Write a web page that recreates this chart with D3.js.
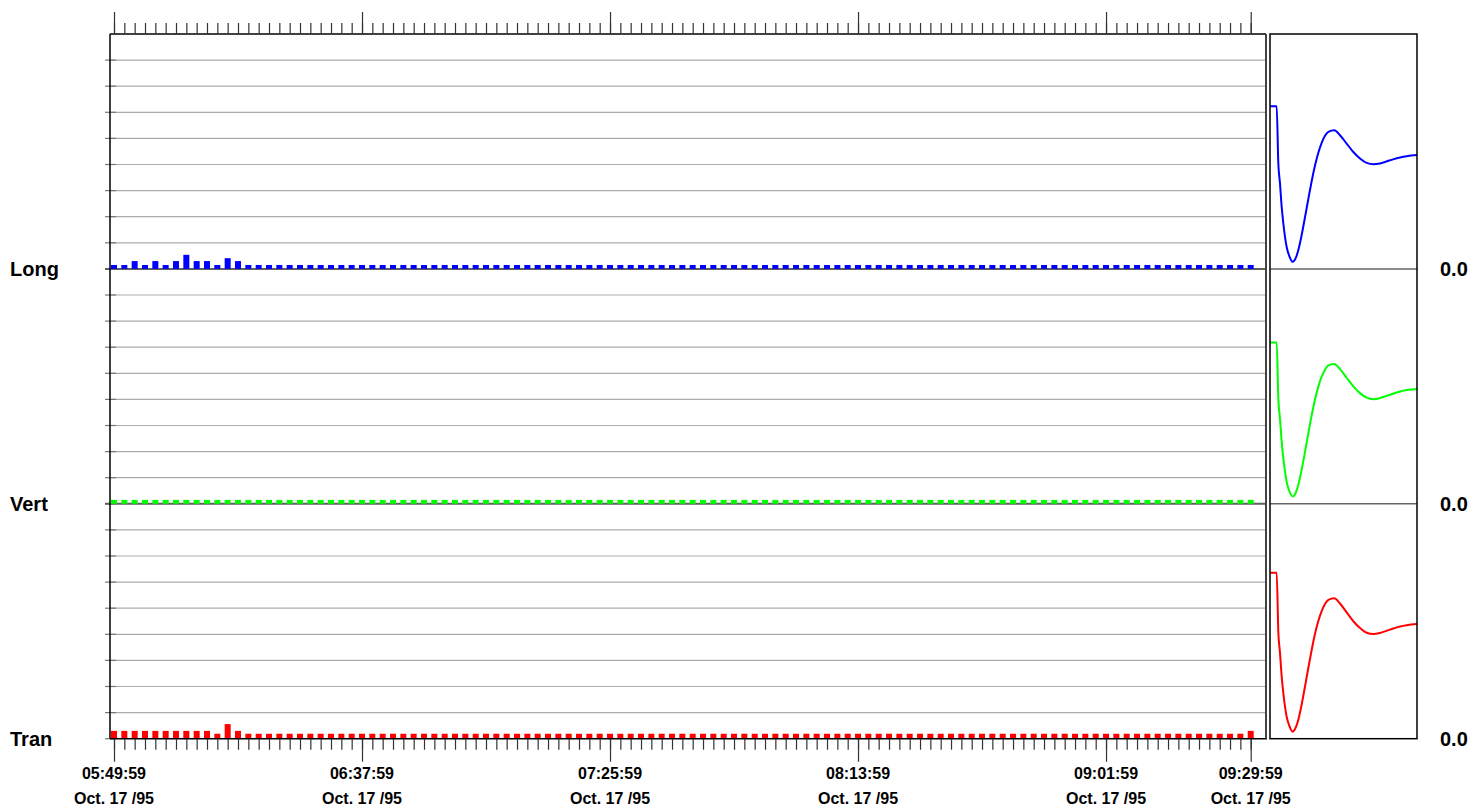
<!DOCTYPE html>
<html>
<head>
<meta charset="utf-8">
<script src="https://cdn.jsdelivr.net/npm/d3@7"></script>
<style>
  html, body { margin: 0; padding: 0; background: #fff; }
  svg { display: block; font-family: "Liberation Sans", Arial, sans-serif; }
</style>
</head>
<body>
<svg id="chart" width="1473" height="808"></svg>
<script>
// ---------------- DATA ----------------
const seriesNames = ["Long", "Vert", "Tran"];
const seriesColors = ["#0000ff", "#00ff00", "#ff0000"];
const startTime = "1995-10-17T05:49:59";
const endTime = "1995-10-17T09:29:59";
const sampleMinutes = 2;
const majorTickLabels = ["05:49:59", "06:37:59", "07:25:59", "08:13:59", "09:01:59", "09:29:59"];
const dateLabel = "Oct. 17 /95";
const panelValueLabel = "0.0";

// bar values, one per 2-minute sample (111 samples)
const longValues = [
  0.15,0.15,0.30,0.15,0.30,0.15,0.30,0.54,0.30,0.30,0.15,0.41,0.30,0.15,0.15,0.15,0.15,0.15,0.15,0.15,
  0.15,0.15,0.15,0.15,0.15,0.15,0.15,0.15,0.15,0.15,0.15,0.15,0.15,0.15,0.15,0.15,0.15,0.15,0.15,0.15,
  0.15,0.15,0.15,0.15,0.15,0.15,0.15,0.15,0.15,0.15,0.15,0.15,0.15,0.15,0.15,0.15,0.15,0.15,0.15,0.15,
  0.15,0.15,0.15,0.15,0.15,0.15,0.15,0.15,0.15,0.15,0.15,0.15,0.15,0.15,0.15,0.15,0.15,0.15,0.15,0.15,
  0.15,0.15,0.15,0.15,0.15,0.15,0.15,0.15,0.15,0.15,0.15,0.15,0.15,0.15,0.15,0.15,0.15,0.15,0.15,0.15,
  0.15,0.15,0.15,0.15,0.15,0.15,0.15,0.15,0.15,0.15,0.15
];
const vertValues = [
  0.15,0.15,0.15,0.15,0.15,0.15,0.15,0.15,0.15,0.15,0.15,0.15,0.15,0.15,0.15,0.15,0.15,0.15,0.15,0.15,
  0.15,0.15,0.15,0.15,0.15,0.15,0.15,0.15,0.15,0.15,0.15,0.15,0.15,0.15,0.15,0.15,0.15,0.15,0.15,0.15,
  0.15,0.15,0.15,0.15,0.15,0.15,0.15,0.15,0.15,0.15,0.15,0.15,0.15,0.15,0.15,0.15,0.15,0.15,0.15,0.15,
  0.15,0.15,0.15,0.15,0.15,0.15,0.15,0.15,0.15,0.15,0.15,0.15,0.15,0.15,0.15,0.15,0.15,0.15,0.15,0.15,
  0.15,0.15,0.15,0.15,0.15,0.15,0.15,0.15,0.15,0.15,0.15,0.15,0.15,0.15,0.15,0.15,0.15,0.15,0.15,0.15,
  0.15,0.15,0.15,0.15,0.15,0.15,0.15,0.15,0.15,0.15,0.15
];
const tranValues = [
  0.30,0.30,0.30,0.30,0.30,0.30,0.30,0.30,0.30,0.30,0.19,0.56,0.30,0.19,0.19,0.19,0.19,0.19,0.19,0.19,
  0.19,0.19,0.19,0.19,0.19,0.19,0.19,0.19,0.19,0.19,0.19,0.19,0.19,0.19,0.19,0.19,0.19,0.19,0.19,0.19,
  0.19,0.19,0.19,0.19,0.19,0.19,0.19,0.19,0.19,0.19,0.19,0.19,0.19,0.19,0.19,0.19,0.19,0.19,0.19,0.19,
  0.19,0.19,0.19,0.19,0.19,0.19,0.19,0.19,0.19,0.19,0.19,0.19,0.19,0.19,0.19,0.19,0.19,0.19,0.19,0.19,
  0.19,0.19,0.19,0.19,0.19,0.19,0.19,0.19,0.19,0.19,0.19,0.19,0.19,0.19,0.19,0.19,0.19,0.19,0.19,0.19,
  0.19,0.19,0.19,0.19,0.19,0.19,0.19,0.19,0.19,0.19,0.30
];

// response curves (side panels): sample position and value
const respT = [0, 6.67, 8.33, 10, 11.67, 13.33, 15, 16.67, 19.33, 22.67, 26, 28.33, 31.67, 35, 38.33, 41.67, 45, 48.33, 51.67, 55, 58.33, 64.33, 70, 76.67, 83.33, 90, 96.67, 103.33, 110, 120, 130, 136.67, 147];
const respLong = [6.23, 6.23, 4.04, 3.27, 2.38, 1.74, 1.23, 0.84, 0.49, 0.27, 0.44, 0.72, 1.30, 1.98, 2.68, 3.36, 3.96, 4.45, 4.83, 5.10, 5.25, 5.31, 5.12, 4.80, 4.48, 4.23, 4.06, 4.01, 4.04, 4.16, 4.27, 4.32, 4.36];
const respVert = [6.18, 6.18, 4.02, 3.26, 2.38, 1.74, 1.23, 0.84, 0.49, 0.28, 0.45, 0.73, 1.31, 1.99, 2.70, 3.39, 4.00, 4.49, 4.87, 5.14, 5.30, 5.36, 5.16, 4.83, 4.50, 4.24, 4.07, 4.01, 4.05, 4.18, 4.30, 4.36, 4.40];
const respTran = [6.36, 6.36, 4.08, 3.29, 2.39, 1.75, 1.23, 0.84, 0.49, 0.27, 0.45, 0.73, 1.31, 2.00, 2.71, 3.40, 4.02, 4.51, 4.89, 5.16, 5.32, 5.38, 5.18, 4.84, 4.50, 4.24, 4.06, 4.01, 4.05, 4.18, 4.30, 4.35, 4.39];

const gridLevels = [1, 2, 3, 4, 5, 6, 7, 8];
const panelMax = 9;

// ---------------- LAYOUT ----------------
const svg = d3.select("#chart");
const plotL = 110, plotR = 1266, plotT = 34, plotB = 738.7;
const panelH = (plotB - plotT) / 3;
const sideL = 1270, sideR = 1417;

const parse = d3.timeParse("%Y-%m-%dT%H:%M:%S");
const t0 = parse(startTime), t1 = parse(endTime);
const x = d3.scaleTime().domain([t0, t1]).range([114, 1250.7]);
const sampleTimes = d3.range(longValues.length).map(i => d3.timeMinute.offset(t0, i * sampleMinutes));
const majorTimes = majorTickLabels.map(s => parse("1995-10-17T" + s));

const xs = d3.scaleLinear().domain([0, 147]).range([sideL, sideR]);
const allBars = [longValues, vertValues, tranValues];
const allResp = [respLong, respVert, respTran];

// ---------------- PANELS ----------------
seriesNames.forEach((name, k) => {
  const top = plotT + k * panelH, bottom = top + panelH;
  const y = d3.scaleLinear().domain([0, panelMax]).range([bottom, top]);
  const g = svg.append("g");

  g.selectAll("line.grid").data(gridLevels).join("line")
    .attr("x1", plotL).attr("x2", plotR - 1)
    .attr("y1", d => y(d)).attr("y2", d => y(d))
    .attr("stroke", "#ababab").attr("stroke-width", 1.2);
  g.selectAll("line.lt").data(gridLevels.concat([0])).join("line")
    .attr("x1", 105).attr("x2", 116)
    .attr("y1", d => y(d)).attr("y2", d => y(d))
    .attr("stroke", "#777").attr("stroke-width", 1.2);
  if (k < 2) {
    g.append("line").attr("x1", 105).attr("x2", plotR)
      .attr("y1", y(0)).attr("y2", y(0))
      .attr("stroke", "#606060").attr("stroke-width", 2);
  }

  const vals = allBars[k];
  g.selectAll("rect.bar").data(vals).join("rect")
    .attr("x", (d, i) => x(sampleTimes[i]) - 3)
    .attr("width", 6)
    .attr("y", d => y(d))
    .attr("height", d => y(0) - y(d))
    .attr("fill", seriesColors[k]);

  const line = d3.line().x((d, i) => xs(respT[i])).y(d => y(d)).curve(d3.curveMonotoneX);
  svg.append("path").datum(allResp[k])
    .attr("d", line).attr("fill", "none")
    .attr("stroke", seriesColors[k]).attr("stroke-width", 2);
  if (k < 2) {
    svg.append("line").attr("x1", sideL).attr("x2", sideR)
      .attr("y1", y(0)).attr("y2", y(0))
      .attr("stroke", "#666").attr("stroke-width", 1.5);
  }

  svg.append("text").attr("x", 10).attr("y", y(0) + 7)
    .attr("font-size", 20).attr("font-weight", "bold").attr("fill", "#000")
    .text(name);
  svg.append("text").attr("x", 1440).attr("y", y(0) + 7)
    .attr("font-size", 20).attr("font-weight", "bold").attr("fill", "#000")
    .text(panelValueLabel);
});

// ---------------- FRAMES ----------------
svg.append("line").attr("x1", plotL).attr("x2", plotL).attr("y1", plotT).attr("y2", plotB)
  .attr("stroke", "#000").attr("stroke-width", 1.5);
svg.append("line").attr("x1", plotL).attr("x2", plotR).attr("y1", plotT).attr("y2", plotT)
  .attr("stroke", "#000").attr("stroke-width", 1.5);
svg.append("line").attr("x1", plotL).attr("x2", plotR + 1).attr("y1", plotB).attr("y2", plotB)
  .attr("stroke", "#000").attr("stroke-width", 1.5);
svg.append("line").attr("x1", plotR).attr("x2", plotR).attr("y1", plotT).attr("y2", plotB)
  .attr("stroke", "#444").attr("stroke-width", 2);
svg.append("rect").attr("x", sideL).attr("y", plotT).attr("width", sideR - sideL).attr("height", plotB - plotT)
  .attr("fill", "none").attr("stroke", "#000").attr("stroke-width", 1.5);

// ---------------- AXES ----------------
function styleAxis(sel) {
  sel.select(".domain").remove();
  sel.selectAll(".tick line").attr("stroke", "#333").attr("stroke-width", 1.2);
  sel.selectAll(".tick text").remove();
}
svg.append("g").attr("transform", `translate(0,${plotT})`)
  .call(d3.axisTop(x).tickValues(sampleTimes).tickSize(11).tickFormat(""))
  .call(styleAxis);
svg.append("g").attr("transform", `translate(0,${plotT})`)
  .call(d3.axisTop(x).tickValues(majorTimes).tickSize(22).tickFormat(""))
  .call(styleAxis);
svg.append("g").attr("transform", `translate(0,${plotB})`)
  .call(d3.axisBottom(x).tickValues(sampleTimes).tickSize(11).tickFormat(""))
  .call(styleAxis);
svg.append("g").attr("transform", `translate(0,${plotB})`)
  .call(d3.axisBottom(x).tickValues(majorTimes).tickSize(23).tickFormat(""))
  .call(styleAxis);

const lbl = svg.append("g").attr("font-size", 16).attr("font-weight", "bold").attr("text-anchor", "middle");
majorTimes.forEach((t, i) => {
  lbl.append("text").attr("x", x(t)).attr("y", 779).text(majorTickLabels[i]);
  lbl.append("text").attr("x", x(t)).attr("y", 804).text(dateLabel);
});
</script>
</body>
</html>
